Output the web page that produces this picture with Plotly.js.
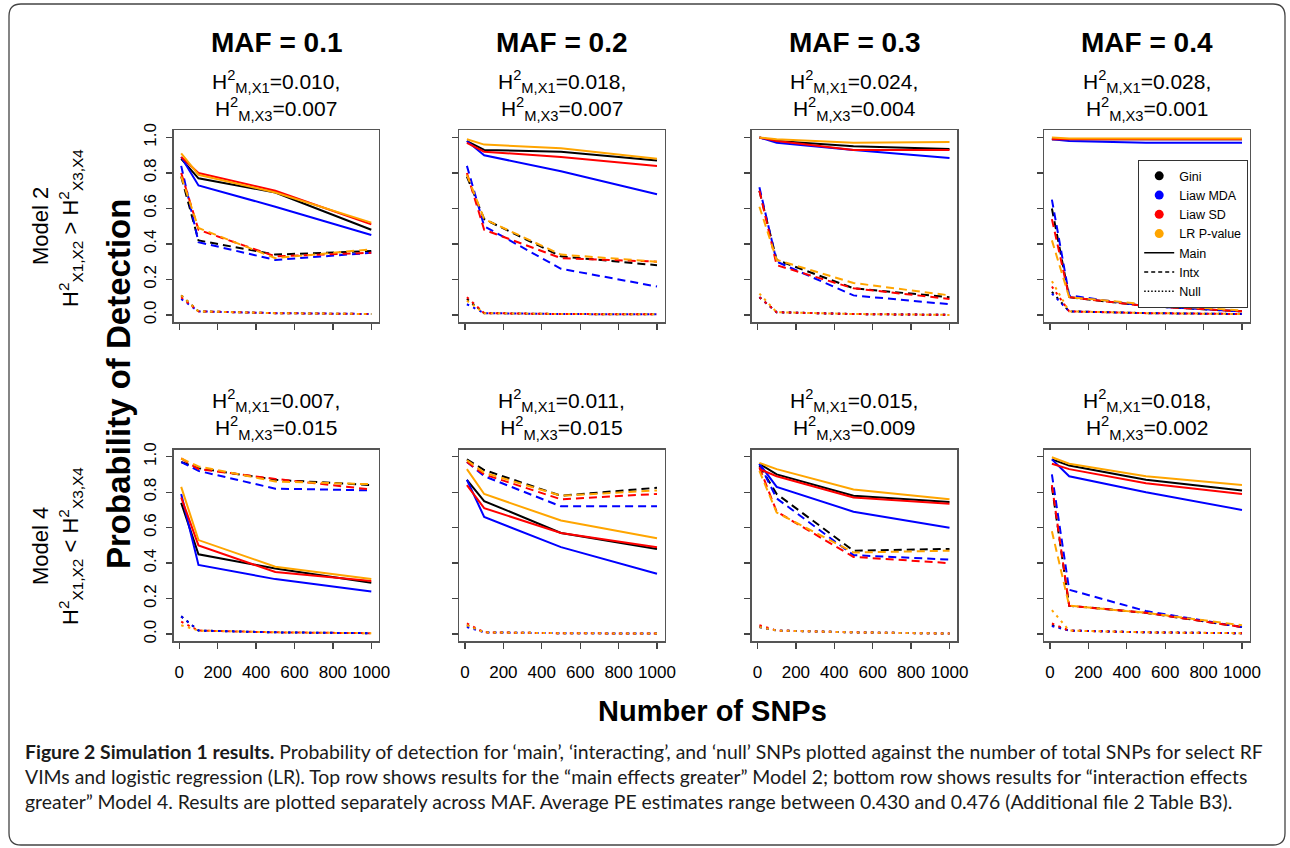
<!DOCTYPE html>
<html>
<head>
<meta charset="utf-8">
<script src="https://cdn.plot.ly/plotly-3.0.1.min.js"></script>
<style>html,body{margin:0;padding:0;background:#fff;}#chart{width:1290px;height:848px;}</style>
</head>
<body>
<div id="chart"></div>
<script>
// ---------------- DATA ----------------
const snps = [10, 100, 500, 1000];
const methods = ['Gini', 'Liaw MDA', 'Liaw SD', 'LR P-value'];
const methodColors = ['#000000', '#0000FF', '#FF0000', '#FFA500'];
const snpTypes = ['Main', 'Intx', 'Null'];
const mafLabels = ['MAF = 0.1', 'MAF = 0.2', 'MAF = 0.3', 'MAF = 0.4'];
const h2x1Model2 = ['0.010', '0.018', '0.024', '0.028'];
const h2x3Model2 = ['0.007', '0.007', '0.004', '0.001'];
const h2x1Model4 = ['0.007', '0.011', '0.015', '0.018'];
const h2x3Model4 = ['0.015', '0.015', '0.009', '0.002'];
const xTicks = [0, 200, 400, 600, 800, 1000];
const yTicks = [0, 0.2, 0.4, 0.6, 0.8, 1.0];

// rows: Gini, Liaw MDA, Liaw SD, LR P-value ; columns: snps
// Model 2
const m2_maf1_main = [[0.88,0.77,0.69,0.48],[0.89,0.73,0.61,0.45],[0.89,0.80,0.70,0.51],[0.91,0.79,0.69,0.52]];
const m2_maf1_intx = [[0.78,0.42,0.34,0.36],[0.84,0.41,0.31,0.35],[0.80,0.48,0.33,0.35],[0.78,0.49,0.32,0.37]];
const m2_maf1_null = [[0.11,0.02,0.01,0.005],[0.09,0.02,0.01,0.005],[0.10,0.02,0.01,0.005],[0.11,0.02,0.01,0.005]];

const m2_maf2_main = [[0.98,0.93,0.92,0.87],[0.98,0.90,0.81,0.68],[0.97,0.92,0.89,0.84],[0.99,0.96,0.94,0.88]];
const m2_maf2_intx = [[0.78,0.54,0.33,0.28],[0.84,0.50,0.26,0.16],[0.80,0.48,0.32,0.30],[0.79,0.54,0.34,0.30]];
const m2_maf2_null = [[0.09,0.01,0.005,0.003],[0.06,0.01,0.005,0.003],[0.10,0.01,0.005,0.003],[0.08,0.01,0.005,0.003]];

const m2_maf3_main = [[1.0,0.98,0.95,0.935],[1.0,0.97,0.93,0.885],[1.0,0.98,0.93,0.93],[1.0,0.99,0.97,0.975]];
const m2_maf3_intx = [[0.70,0.31,0.15,0.10],[0.72,0.30,0.11,0.06],[0.70,0.28,0.15,0.09],[0.61,0.31,0.18,0.11]];
const m2_maf3_null = [[0.10,0.015,0.005,0.0],[0.10,0.015,0.005,0.0],[0.10,0.015,0.005,0.0],[0.12,0.015,0.005,0.0]];

const m2_maf4_main = [[0.99,0.99,0.99,0.99],[0.99,0.98,0.97,0.97],[0.99,0.99,0.99,0.99],[1.0,0.995,0.995,0.995]];
const m2_maf4_intx = [[0.60,0.10,0.05,0.02],[0.65,0.11,0.05,0.02],[0.54,0.10,0.05,0.02],[0.42,0.10,0.06,0.025]];
const m2_maf4_null = [[0.13,0.02,0.01,0.005],[0.12,0.02,0.01,0.005],[0.16,0.02,0.01,0.005],[0.19,0.02,0.01,0.005]];

// Model 4
const m4_maf1_main = [[0.74,0.45,0.37,0.29],[0.79,0.39,0.31,0.24],[0.77,0.50,0.35,0.30],[0.83,0.53,0.38,0.31]];
const m4_maf1_intx = [[0.97,0.935,0.87,0.84],[0.97,0.92,0.82,0.81],[0.99,0.93,0.875,0.815],[0.99,0.945,0.86,0.845]];
const m4_maf1_null = [[0.10,0.02,0.01,0.005],[0.10,0.02,0.01,0.005],[0.07,0.02,0.01,0.005],[0.05,0.02,0.01,0.005]];

const m4_maf2_main = [[0.87,0.75,0.57,0.48],[0.87,0.66,0.49,0.34],[0.84,0.71,0.57,0.49],[0.93,0.79,0.64,0.54]];
const m4_maf2_intx = [[0.985,0.925,0.78,0.825],[0.97,0.89,0.72,0.72],[0.97,0.90,0.76,0.79],[0.98,0.91,0.78,0.81]];
const m4_maf2_null = [[0.05,0.01,0.005,0.003],[0.04,0.01,0.005,0.003],[0.06,0.01,0.005,0.003],[0.05,0.01,0.005,0.003]];

const m4_maf3_main = [[0.96,0.90,0.78,0.745],[0.96,0.83,0.69,0.60],[0.93,0.89,0.77,0.735],[0.965,0.93,0.815,0.76]];
const m4_maf3_intx = [[0.95,0.79,0.47,0.48],[0.96,0.765,0.445,0.42],[0.94,0.69,0.435,0.40],[0.92,0.685,0.46,0.47]];
const m4_maf3_null = [[0.04,0.02,0.01,0.003],[0.04,0.02,0.01,0.003],[0.05,0.02,0.01,0.003],[0.04,0.02,0.01,0.003]];

const m4_maf4_main = [[0.985,0.95,0.87,0.81],[0.985,0.89,0.80,0.70],[0.96,0.93,0.85,0.79],[0.997,0.96,0.89,0.84]];
const m4_maf4_intx = [[0.83,0.16,0.12,0.04],[0.90,0.25,0.13,0.04],[0.84,0.16,0.12,0.04],[0.58,0.16,0.12,0.05]];
const m4_maf4_null = [[0.05,0.02,0.01,0.005],[0.045,0.02,0.01,0.005],[0.06,0.02,0.01,0.005],[0.135,0.02,0.01,0.005]];

// ---------------- LAYOUT HELPERS ----------------
const W = 1290, H = 848;
const px = v => v / W;
const py = v => 1 - v / H;
const colLeft = [173.6, 459.3, 751.8, 1044.3];
const boxW = 205.3;
const rowTop = [130.4, 449.6];
const boxH = 191.6;
const FONT = 'Liberation Sans, Arial, sans-serif';

const panels = [
  [m2_maf1_main, m2_maf1_intx, m2_maf1_null],
  [m2_maf2_main, m2_maf2_intx, m2_maf2_null],
  [m2_maf3_main, m2_maf3_intx, m2_maf3_null],
  [m2_maf4_main, m2_maf4_intx, m2_maf4_null],
  [m4_maf1_main, m4_maf1_intx, m4_maf1_null],
  [m4_maf2_main, m4_maf2_intx, m4_maf2_null],
  [m4_maf3_main, m4_maf3_intx, m4_maf3_null],
  [m4_maf4_main, m4_maf4_intx, m4_maf4_null]
];
const dashes = ['solid', '8px,5px', '2.5px,4.5px'];

const traces = [];
const layout = {
  width: W, height: H,
  margin: {l: 0, r: 0, t: 0, b: 0},
  paper_bgcolor: '#ffffff',
  plot_bgcolor: '#ffffff',
  font: {family: FONT, color: '#000'},
  showlegend: true,
  legend: {
    x: px(1138), y: py(160), xanchor: 'left', yanchor: 'top',
    bgcolor: '#ffffff', bordercolor: '#333333', borderwidth: 1.2,
    font: {family: FONT, size: 12.5, color: '#000'},
    tracegroupgap: 0, itemwidth: 30
  },
  annotations: [],
  shapes: []
};

panels.forEach((p, k) => {
  const r = Math.floor(k / 4), c = k % 4;
  const n = k + 1;
  const xa = 'xaxis' + (n === 1 ? '' : n), ya = 'yaxis' + (n === 1 ? '' : n);
  const xr = 'x' + (n === 1 ? '' : n), yr = 'y' + (n === 1 ? '' : n);
  layout[xa] = {
    domain: [px(colLeft[c]), px(colLeft[c] + boxW)],
    anchor: yr, range: [-29.6, 1039.6],
    tickmode: 'array', tickvals: xTicks, ticktext: xTicks.map(String),
    showticklabels: r === 1, ticks: 'outside', ticklen: 6, tickwidth: 1.3, tickcolor: '#444',
    showline: true, mirror: true, linecolor: '#555', linewidth: 1.5,
    showgrid: false, zeroline: false, fixedrange: true,
    tickfont: {family: FONT, size: 17, color: '#000'}, ticklabelstandoff: 9
  };
  layout[ya] = {
    domain: [py(rowTop[r] + boxH), py(rowTop[r])],
    anchor: xr, range: [-0.04, 1.04],
    tickmode: 'array', tickvals: yTicks, ticktext: yTicks.map(v => v.toFixed(1)),
    showticklabels: c === 0, tickangle: -90, ticks: 'outside', ticklen: 6, tickwidth: 1.3, tickcolor: '#444',
    showline: true, mirror: true, linecolor: '#555', linewidth: 1.5,
    showgrid: false, zeroline: false, fixedrange: true,
    tickfont: {family: FONT, size: 17, color: '#000'}, ticklabelstandoff: 3
  };
  // null first, then intx, then main drawn on top
  [2, 1, 0].forEach(t => {
    p[t].forEach((vals, m) => {
      traces.push({
        x: snps, y: vals, xaxis: xr, yaxis: yr, type: 'scatter', mode: 'lines',
        line: {color: methodColors[m], width: 2, dash: dashes[t]},
        showlegend: false, hoverinfo: 'skip'
      });
    });
  });
});

// legend entries
methods.forEach((m, i) => {
  traces.push({x: [null], y: [null], xaxis: 'x4', yaxis: 'y4', type: 'scatter', mode: 'markers',
    name: m, marker: {color: methodColors[i], size: 9, symbol: 'circle'}, hoverinfo: 'skip'});
});
snpTypes.forEach((s, i) => {
  traces.push({x: [null], y: [null], xaxis: 'x4', yaxis: 'y4', type: 'scatter', mode: 'lines',
    name: s, line: {color: '#000', width: 1.5, dash: ['solid', '4px,3px', '1.5px,2px'][i]}, hoverinfo: 'skip'});
});

// annotations
const ann = layout.annotations;
function addText(text, x, y, size, opts) {
  ann.push(Object.assign({
    text: text, x: px(x), y: py(y), xref: 'paper', yref: 'paper',
    xanchor: 'center', yanchor: 'middle', showarrow: false,
    font: {family: FONT, size: size, color: '#000'}
  }, opts || {}));
}
for (let c = 0; c < 4; c++) {
  const cx = colLeft[c] + boxW / 2;
  addText('<b>' + mafLabels[c] + '</b>', cx, 42, 28);
  addText('H<sup>2</sup><sub>M,X1</sub>=' + h2x1Model2[c] + ',<br>H<sup>2</sup><sub>M,X3</sub>=' + h2x3Model2[c], cx, 96, 21);
  addText('H<sup>2</sup><sub>M,X1</sub>=' + h2x1Model4[c] + ',<br>H<sup>2</sup><sub>M,X3</sub>=' + h2x3Model4[c], cx, 415, 21);
}
addText('<b>Probability of Detection</b>', 118, 384, 33, {textangle: -90});
addText('<b>Number of SNPs</b>', 712, 711, 29);
addText('Model 2', 40, 226, 22, {textangle: -90});
addText('H<sup>2</sup><sub>X1,X2</sub> &gt; H<sup>2</sup><sub>X3,X4</sub>', 70, 228, 22, {textangle: -90});
addText('Model 4', 40, 546, 22, {textangle: -90});
addText('H<sup>2</sup><sub>X1,X2</sub> &lt; H<sup>2</sup><sub>X3,X4</sub>', 70, 546, 22, {textangle: -90});

const CAP = 'Lato, Open Sans, sans-serif';
const capLines = [
  '<b>Figure 2 Simulation 1 results.</b> Probability of detection for \u2018main\u2019, \u2018interacting\u2019, and \u2018null\u2019 SNPs plotted against the number of total SNPs for select RF',
  'VIMs and logistic regression (LR). Top row shows results for the \u201cmain effects greater\u201d Model 2; bottom row shows results for \u201cinteraction effects',
  'greater\u201d Model 4. Results are plotted separately across MAF. Average PE estimates range between 0.430 and 0.476 (Additional file 2 Table B3).'
];
capLines.forEach((t, i) => {
  ann.push({text: t, x: px(23), y: py(751 + i * 25), xref: 'paper', yref: 'paper',
    xanchor: 'left', yanchor: 'middle', showarrow: false,
    font: {family: CAP, size: 19.4, color: '#1a1a1a'}});
});

// rounded border
(function () {
  const L = 9, T = 4, R = 1285, B = 845, rad = 12;
  const P = (x, y) => px(x) + ',' + py(y);
  const path = 'M ' + P(L + rad, T) + ' L ' + P(R - rad, T) + ' Q ' + P(R, T) + ' ' + P(R, T + rad) +
    ' L ' + P(R, B - rad) + ' Q ' + P(R, B) + ' ' + P(R - rad, B) +
    ' L ' + P(L + rad, B) + ' Q ' + P(L, B) + ' ' + P(L, B - rad) +
    ' L ' + P(L, T + rad) + ' Q ' + P(L, T) + ' ' + P(L + rad, T) + ' Z';
  layout.shapes.push({type: 'path', path: path, xref: 'paper', yref: 'paper',
    line: {color: '#444', width: 1.3}, layer: 'below'});
})();

Plotly.newPlot('chart', traces, layout, {staticPlot: true, displayModeBar: false});
</script>
</body>
</html>
